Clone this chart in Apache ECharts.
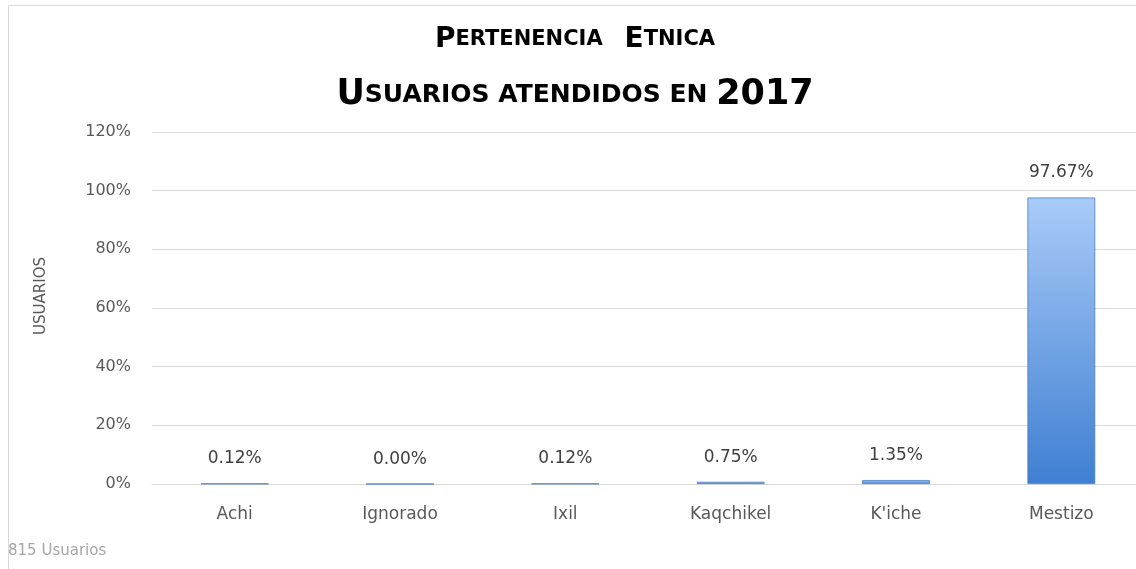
<!DOCTYPE html>
<html><head><meta charset="utf-8">
<script src="https://cdn.jsdelivr.net/npm/echarts@6/dist/echarts.min.js"></script>
<style>html,body{margin:0;padding:0;background:#fff;overflow:hidden}#c{width:1150px;height:569px}</style>
</head><body><div id="c"></div>
<script>
const categories = ['Achi', 'Ignorado', 'Ixil', 'Kaqchikel', "K'iche", 'Mestizo'];
const values = [0.12, 0.00, 0.12, 0.75, 1.35, 97.67];
const yTicks = [0, 20, 40, 60, 80, 100, 120];
const yName = 'USUARIOS';

const chart = echarts.init(document.getElementById('c'));
const font = '"DejaVu Sans", "Liberation Sans", sans-serif';
chart.setOption({
  backgroundColor: '#fff',
  animation: false,
  graphic: [
    { type: 'rect', shape: { x: 8.5, y: 5.5, width: 1160, height: 600 }, style: { fill: 'none', stroke: '#d9d9d9', lineWidth: 1 } },
    { type: 'text', left: 8, top: 544, style: { text: '815 Usuarios', fill: '#a6a6a6', font: '15px ' + font } },
    { type: 'text', x: 41, y: 296, rotation: Math.PI / 2,
      style: { text: yName, fill: '#595959', font: '15px ' + font, textAlign: 'center', textVerticalAlign: 'middle' } }
  ],
  title: [{
    left: 'center', top: 19,
    text: '{a|P}{b|ERTENENCIA   }{a|E}{b|TNICA}',
    textStyle: {
      rich: {
        a: { fontSize: 28, fontWeight: 'bold', color: '#000', fontFamily: font, lineHeight: 32 },
        b: { fontSize: 21, fontWeight: 'bold', color: '#000', fontFamily: font, lineHeight: 32 }
      }
    }
  }, {
    left: 'center', top: 69,
    text: '{c|U}{d|SUARIOS ATENDIDOS EN }{c|2017}',
    textStyle: {
      rich: {
        c: { fontSize: 35, fontWeight: 'bold', color: '#000', fontFamily: font, lineHeight: 42 },
        d: { fontSize: 25, fontWeight: 'bold', color: '#000', fontFamily: font, lineHeight: 42 }
      }
    }
  }],
  grid: { left: 152, width: 992, top: 132, bottom: 85 },
  xAxis: {
    type: 'category', data: categories,
    axisLine: { lineStyle: { color: '#d9d9d9' } },
    axisTick: { show: false },
    axisLabel: { color: '#595959', fontSize: 17, fontFamily: font, margin: 22 }
  },
  yAxis: {
    type: 'value', min: 0, max: 120, interval: 20,
    axisLabel: { color: '#595959', fontSize: 16, fontFamily: font, margin: 21, formatter: v => yTicks.includes(v) ? v + '%' : '' },
    splitLine: { lineStyle: { color: '#d9d9d9' } },
    axisLine: { show: false }, axisTick: { show: false }
  },
  series: [{
    type: 'bar', data: values, barWidth: '41%',
    itemStyle: {
      color: new echarts.graphic.LinearGradient(0, 0, 0, 1, [
        { offset: 0, color: '#a9cbf8' },
        { offset: 1, color: '#3f7fd2' }
      ]),
      borderColor: '#4a7cbf', borderWidth: 0.8
    },
    label: {
      show: true, position: 'top', distance: 16,
      color: '#404040', fontSize: 17, fontFamily: font,
      formatter: p => p.value.toFixed(2) + '%'
    }
  }]
});
</script></body></html>
